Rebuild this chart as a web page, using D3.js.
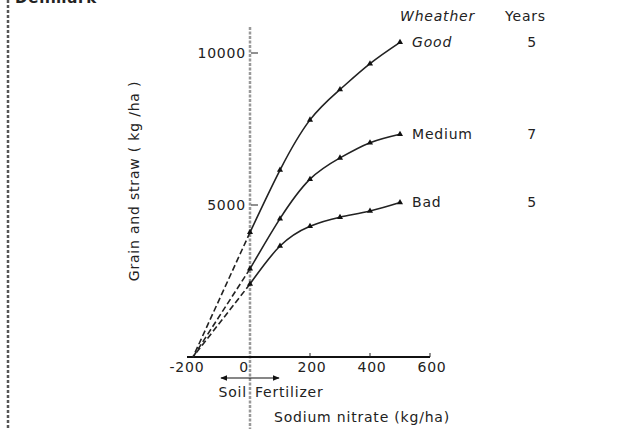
<!DOCTYPE html>
<html>
<head>
<meta charset="utf-8">
<script src="https://cdn.jsdelivr.net/npm/d3@7"></script>
<style>
  body { margin: 0; background: #fff; }
  svg { display: block; }
  text { font-family: "DejaVu Sans", sans-serif; fill: #222; font-size: 14px; letter-spacing: 0.8px; }
</style>
</head>
<body>
<svg id="chart" width="644" height="429"></svg>
<script>
// Sodium nitrate rates (kg/ha) and yields
const rates = [0, 100, 200, 300, 400, 500];
const goodYield = [4100, 6150, 7800, 8800, 9650, 10350];
const mediumYield = [2900, 4550, 5850, 6550, 7050, 7330];
const badYield = [2400, 3650, 4300, 4600, 4800, 5080];
const weather = ['Good', 'Medium', 'Bad'];
const years = [5, 7, 5];
const soilIntercept = -190; // where the dashed extrapolations meet zero
const xTicks = [-200, 0, 200, 400, 600];
const yTicks = [5000, 10000];

const svg = d3.select('#chart');

// Scales
const x = d3.scaleLinear().domain([-200, 600]).range([190, 430]);
const y = d3.scaleLinear().domain([0, 10000]).range([357, 53]);

// Left page edge (dashed)
svg.append('line')
  .attr('x1', 8).attr('x2', 8).attr('y1', 0).attr('y2', 429)
  .attr('stroke', '#555').attr('stroke-width', 2.5)
  .attr('stroke-dasharray', '3,2');

// Cropped heading at the very top
svg.append('text')
  .attr('x', 15).attr('y', 3)
  .style('font-size', '15px').style('font-weight', 'bold')
  .text('Denmark');

// Y axis: dashed vertical at x = 0
svg.append('line')
  .attr('x1', x(0)).attr('x2', x(0)).attr('y1', 27).attr('y2', 429)
  .attr('stroke', '#999').attr('stroke-width', 2.5)
  .attr('stroke-dasharray', '3,1.5');

svg.append('g')
  .selectAll('line')
  .data(yTicks)
  .join('line')
  .attr('x1', x(0) + 1).attr('x2', x(0) + 8)
  .attr('y1', d => y(d)).attr('y2', d => y(d))
  .attr('stroke', '#222');

svg.append('g')
  .selectAll('text')
  .data(yTicks)
  .join('text')
  .attr('x', x(0) - 4)
  .attr('y', d => y(d))
  .attr('dy', '0.35em')
  .attr('text-anchor', 'end')
  .text(d => d);

// X axis baseline
svg.append('line')
  .attr('x1', x(-200) - 3).attr('x2', x(600))
  .attr('y1', y(0)).attr('y2', y(0))
  .attr('stroke', '#111').attr('stroke-width', 2);

svg.append('g')
  .selectAll('line')
  .data(xTicks.filter(d => d > 0))
  .join('line')
  .attr('x1', d => x(d)).attr('x2', d => x(d))
  .attr('y1', y(0)).attr('y2', y(0) - 4)
  .attr('stroke', '#222');

svg.append('g')
  .selectAll('text')
  .data(xTicks)
  .join('text')
  .attr('x', d => x(d) + (d === 0 ? -6 : d < 0 ? -3 : 2))
  .attr('y', y(0) + 15)
  .attr('text-anchor', 'middle')
  .text(d => d);

// Axis titles
svg.append('text')
  .attr('transform', `translate(139,${181}) rotate(-90)`)
  .attr('text-anchor', 'middle')
  .text('Grain and straw ( kg /ha )');

svg.append('text')
  .attr('x', 362).attr('y', 422)
  .attr('text-anchor', 'middle')
  .text('Sodium nitrate (kg/ha)');

// Soil / Fertilizer arrow
svg.append('defs').append('marker')
  .attr('id', 'head')
  .attr('viewBox', '0 0 10 10')
  .attr('refX', 9).attr('refY', 5)
  .attr('markerWidth', 6).attr('markerHeight', 6)
  .attr('orient', 'auto-start-reverse')
  .append('path').attr('d', 'M0,1 L10,5 L0,9 Z').attr('fill', '#111');

svg.append('line')
  .attr('x1', 221).attr('x2', 279).attr('y1', 378).attr('y2', 378)
  .attr('stroke', '#111').attr('stroke-width', 1.2)
  .attr('marker-start', 'url(#head)')
  .attr('marker-end', 'url(#head)');

svg.append('text')
  .attr('x', 247).attr('y', 397)
  .attr('text-anchor', 'end')
  .text('Soil');

svg.append('text')
  .attr('x', 255).attr('y', 397)
  .text('Fertilizer');

// Series
const series = [goodYield, mediumYield, badYield].map((vals, i) => ({
  name: weather[i],
  years: years[i],
  points: rates.map((r, j) => ({ r, v: vals[j] }))
}));

const line = d3.line()
  .x(d => x(d.r))
  .y(d => y(d.v))
  .curve(d3.curveNatural);

// Dashed extrapolation to the soil supply
svg.append('g')
  .selectAll('line')
  .data(series)
  .join('line')
  .attr('x1', d => x(d.points[0].r)).attr('y1', d => y(d.points[0].v))
  .attr('x2', x(soilIntercept)).attr('y2', y(0))
  .attr('stroke', '#222').attr('stroke-width', 1.6)
  .attr('stroke-dasharray', '6,3');

svg.append('g')
  .selectAll('path')
  .data(series)
  .join('path')
  .attr('d', d => line(d.points))
  .attr('fill', 'none')
  .attr('stroke', '#222')
  .attr('stroke-width', 1.6);

const sym = d3.symbol(d3.symbolTriangle).size(16);
series.forEach(s => {
  svg.append('g')
    .selectAll('path')
    .data(s.points)
    .join('path')
    .attr('d', sym)
    .attr('transform', d => `translate(${x(d.r)},${y(d.v)})`)
    .attr('fill', '#111');
});

// Legend-like labels
svg.append('text')
  .attr('x', 400).attr('y', 21)
  .style('font-style', 'italic')
  .text('Wheather');

svg.append('text')
  .attr('x', 505).attr('y', 21)
  .text('Years');

svg.append('g')
  .selectAll('text')
  .data(series)
  .join('text')
  .attr('x', 412)
  .attr('y', d => y(d.points[d.points.length - 1].v))
  .attr('dy', '0.35em')
  .style('font-style', (d, i) => i === 0 ? 'italic' : 'normal')
  .text(d => d.name);

svg.append('g')
  .selectAll('text')
  .data(series)
  .join('text')
  .attr('x', 532)
  .attr('y', d => y(d.points[d.points.length - 1].v))
  .attr('dy', '0.35em')
  .attr('text-anchor', 'middle')
  .text(d => d.years);
</script>
</body>
</html>
